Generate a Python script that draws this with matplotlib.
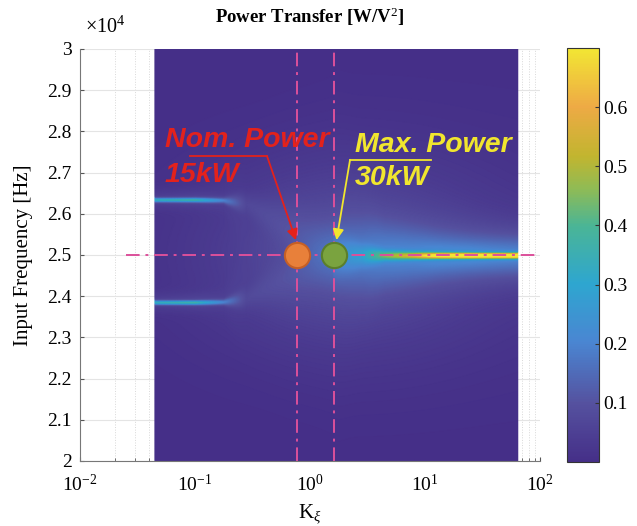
import numpy as np
import matplotlib
matplotlib.use("Agg")
import matplotlib.pyplot as plt
from matplotlib.colors import LinearSegmentedColormap
from matplotlib.ticker import FuncFormatter, LogLocator, NullFormatter

plt.rcParams["font.family"] = ["Liberation Serif", "DejaVu Serif"]
plt.rcParams["mathtext.fontset"] = "custom"
plt.rcParams["mathtext.rm"] = "Liberation Serif"
plt.rcParams["mathtext.it"] = "Liberation Serif:italic"
plt.rcParams["mathtext.bf"] = "Liberation Serif:bold"

# sweep extent
k_min, k_max = 0.045, 64.0
f_min, f_max = 2.0e4, 3.0e4

# split-peak ridges (upper / lower), offset from 25 kHz in Hz
split_u = [-1.35, -1.00, -0.75, -0.55, -0.20, 0.25]
upper_df = [1350, 1350, 1340, 1250, 700, 0]
lower_df = [-1140, -1140, -1130, -1050, -600, 0]
split_amp = [0.28, 0.30, 0.15, 0.03, 0.03, 0.04]
split_w = [40, 40, 50, 180, 400, 550]

# merged ridge at 25 kHz
main_u = [0.20, 0.45, 0.65, 0.90, 1.10, 1.40, 1.81]
main_amp = [0.03, 0.10, 0.25, 0.38, 0.58, 0.69, 0.70]
main_w = [350, 170, 85, 65, 52, 48, 48]

# broad haze around the operating points
haze_center = (0.3, 2.5e4)
haze_spread = (0.85, 1500)
haze_amp = 0.085

f_res = 2.5e4
k_nom, k_max_pw = 0.77, 1.62

# annotation geometry
nom_line = ([0.0906, 0.423], [2.740e4, 2.740e4])
nom_tip = (0.755, 2.536e4)
max_line = ([11.3, 2.23], [2.731e4, 2.731e4])
max_tip = (1.70, 2.536e4)

k = np.logspace(np.log10(k_min), np.log10(k_max), 600)
f = np.linspace(f_min, f_max, 1600)
U, F = np.meshgrid(np.log10(k), f)
u = np.log10(k)

P = np.zeros_like(U)
for df in (upper_df, lower_df):
    c = f_res + np.interp(u, split_u, df)
    a = np.interp(u, split_u, split_amp)
    w = np.interp(u, split_u, split_w)
    P += a * np.exp(-0.5 * ((F - c) / w) ** 2)
    P += 0.15 * a * np.exp(-0.5 * ((F - c) / (4 * w)) ** 2)
a = np.interp(u, main_u, main_amp, left=0.0)
w = np.interp(u, main_u, main_w)
P += a * np.exp(-0.5 * ((F - f_res) / w) ** 2)
P += 0.14 * a * np.exp(-0.5 * ((F - f_res) / (6 * w)) ** 2)
P += haze_amp * np.exp(-0.5 * (((U - haze_center[0]) / haze_spread[0]) ** 2
                               + ((F - haze_center[1]) / haze_spread[1]) ** 2))
P = np.clip(P, 0, 0.7)

cmap = LinearSegmentedColormap.from_list("parula_like", [
    (0.00, "#452f88"), (0.14, "#55519f"), (0.29, "#4a86d2"),
    (0.43, "#2ea6d0"), (0.57, "#4ab596"), (0.66, "#8fbb55"),
    (0.74, "#c2b52f"), (0.86, "#eeaa45"), (1.00, "#f2e633")])

fig = plt.figure(figsize=(6.37, 5.26), dpi=100)
ax = fig.add_axes([0.1256, 0.1236, 0.7221, 0.7833])
cax = fig.add_axes([0.890, 0.1217, 0.050, 0.7871])

ax.set_axisbelow(True)
ax.grid(True, which="major", axis="y", color="#e4e4e4", lw=0.8)
ax.grid(True, which="minor", axis="x", color="#d8d8d8", lw=0.7, ls=":")
mesh = ax.pcolormesh(k, f, P, cmap=cmap, vmin=0, vmax=0.7,
                     shading="gouraud", zorder=2, rasterized=True)

line_c = "#dc509b"
dash = (0, (7, 3, 1.5, 3))
ax.plot([0.025, 100], [f_res, f_res], color=line_c, lw=1.4, ls=dash, zorder=3)
for kv in (k_nom, k_max_pw):
    ax.plot([kv, kv], [f_min, f_max], color=line_c, lw=1.4, ls=dash, zorder=3)

ax.scatter([k_nom], [f_res], s=330, color="#e8803a", edgecolor="#c65f25",
           lw=1.5, zorder=5)
ax.scatter([k_max_pw], [f_res], s=330, color="#7aa33f", edgecolor="#5b7f2b",
           lw=1.5, zorder=5)

red = "#e3221c"
yel = "#f1e62e"
tfont = dict(family="Liberation Sans", weight="bold", style="italic",
             fontsize=20.5, zorder=6)
ax.text(0.0548, 2.762e4, "Nom. Power", color=red, **tfont)
ax.text(0.0548, 2.677e4, "15kW", color=red, **tfont)
ax.plot(*nom_line, color=red, lw=1.3, zorder=6)
ax.annotate("", xy=nom_tip, xytext=(nom_line[0][1], nom_line[1][1]),
            arrowprops=dict(arrowstyle="-|>", color=red, lw=1.3,
                            mutation_scale=16, shrinkA=0, shrinkB=0), zorder=6)
ax.text(2.46, 2.750e4, "Max. Power", color=yel, **tfont)
ax.text(2.46, 2.670e4, "30kW", color=yel, **tfont)
ax.plot(*max_line, color=yel, lw=1.3, zorder=6)
ax.annotate("", xy=max_tip, xytext=(max_line[0][1], max_line[1][1]),
            arrowprops=dict(arrowstyle="-|>", color=yel, lw=1.3,
                            mutation_scale=16, shrinkA=0, shrinkB=0), zorder=6)

ax.set_xscale("log")
ax.set_xlim(1e-2, 1e2)
ax.set_ylim(f_min, f_max)
ax.set_xticks([1e-2, 1e-1, 1e0, 1e1, 1e2])
ax.xaxis.set_minor_locator(LogLocator(base=10, subs=np.arange(2, 10)))
ax.xaxis.set_minor_formatter(NullFormatter())
ax.set_yticks(np.arange(2.0e4, 3.01e4, 1e3))
ax.yaxis.set_major_formatter(FuncFormatter(lambda v, p: f"{v / 1e4:g}"))
ax.tick_params(direction="in", labelsize=14, color="#555555", length=3)
ax.tick_params(axis="x", pad=9)
ax.tick_params(axis="y", pad=6)
ax.tick_params(which="minor", direction="in", length=2, color="#555555")
for s in ("top", "right"):
    ax.spines[s].set_visible(False)
for s in ("left", "bottom"):
    ax.spines[s].set_color("#777777")
    ax.spines[s].set_zorder(7)

ax.text(0.01, 1.028, r"$\times10^4$", transform=ax.transAxes, fontsize=14.5,
        ha="left", va="bottom")
ax.set_title(r"Power Transfer [W/V$^2$]", fontsize=13.5, fontweight="bold",
             pad=19)
ax.set_xlabel(r"K$_\xi$", fontsize=15, labelpad=6)
ax.set_ylabel("Input Frequency [Hz]", fontsize=15, labelpad=10)

cb = fig.colorbar(mesh, cax=cax)
cb.set_ticks([0.1, 0.2, 0.3, 0.4, 0.5, 0.6])
cb.ax.tick_params(direction="in", labelsize=14, length=3, color="#333333")
cb.outline.set_edgecolor("#333333")

fig.savefig("out.png", dpi=100)
